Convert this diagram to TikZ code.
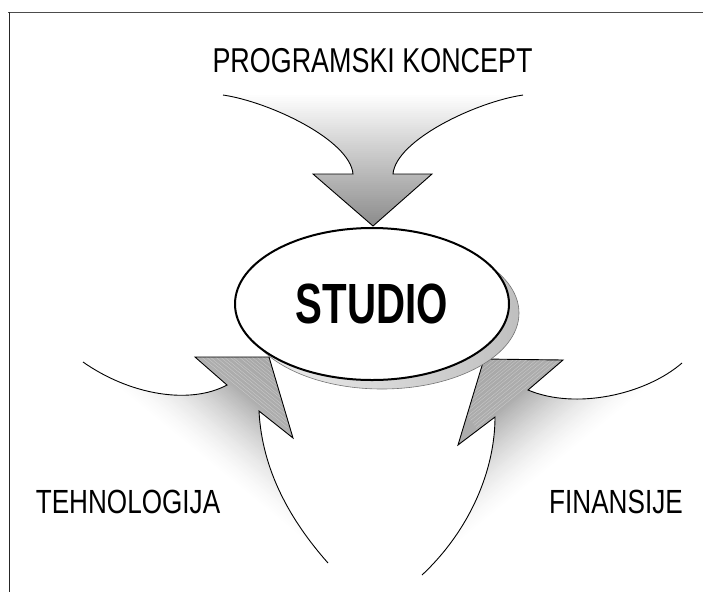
\documentclass[tikz,border=0pt]{standalone}
\usepackage{fontspec}
\setmainfont{Liberation Sans}
\newfontfamily\narrowfont{Liberation Sans}[FakeStretch=0.78]
\newfontfamily\studiofont{Liberation Sans}[FakeStretch=0.71]
\usetikzlibrary{calc,shapes.geometric}
\begin{document}
\begin{tikzpicture}[x=1pt,y=-1pt,
  outline/.style={draw=black, line width=0.9pt, line join=miter},
  lbl/.style={font=\narrowfont\fontsize{33.5}{40}\selectfont, anchor=base, inner sep=0pt},
  streak/.style={white, opacity=0.35, line width=0.4pt},
]
\useasboundingbox (0,0) rectangle (703,592);
% frame
\draw[black!70, line width=1.3pt] (8,12.5) -- (703,12.5);
\draw[black!85, line width=1.3pt] (9.5,12) -- (9.5,592);

% ---- top arrow (PROGRAMSKI KONCEPT)
\begin{scope}
\clip (223,95) .. controls (270,102) and (350,140) .. (353,174) -- (313,174) -- (373,226) -- (432,174) -- (393,174) .. controls (396,140) and (476,102) .. (523,95) -- cycle;
\foreach \yy in {95,97,...,229}{
  \pgfmathsetmacro\myk{45*(\yy-95)/131}
  \fill[black!\myk] (200,\yy-1.6) rectangle (560,\yy+1.6);
}
\end{scope}
\draw[outline] (223,95) .. controls (270,102) and (350,140) .. (353,174) -- (313,174) -- (373,226) -- (432,174) -- (393,174) .. controls (396,140) and (476,102) .. (523,95);

% ---- left arrow (TEHNOLOGIJA)
\begin{scope}
\clip (83,362) .. controls (130,395) and (190,405) .. (227,385) -- (195,357) -- (269,357) -- (293,438) -- (259,411) .. controls (262,470) and (290,520) .. (328,563) -- cycle;
\foreach \s in {0,2,...,132}{
  \pgfmathsetmacro\myt{min(\s,78)/78}
  \pgfmathsetmacro\myk{32*\myt*sqrt(\myt)+max(\s-78,0)*0.06}
  \pgfmathsetmacro\mya{\s}
  \pgfmathsetmacro\myb{\s+3.2}
  \fill[black!\myk] ($(83,362)+\mya*(0.634,-0.773)+400*(0.773,0.634)$) -- ($(83,362)+\myb*(0.634,-0.773)+400*(0.773,0.634)$) -- ($(83,362)+\myb*(0.634,-0.773)+400*(-0.773,-0.634)$) -- ($(83,362)+\mya*(0.634,-0.773)+400*(-0.773,-0.634)$) -- cycle;
}
\end{scope}
\begin{scope}
\clip (195,357) -- (269,357) -- (293,438) -- cycle;
\foreach \s in {79,82,84.5,88,91,93.5,97,99,103,105.5,108,111,114,117.5,119.5,122}{
  \draw[streak] ($(83,362)+\s*(0.634,-0.773)+200*(0.773,0.634)$) -- ($(83,362)+\s*(0.634,-0.773)+200*(-0.773,-0.634)$);
}
\end{scope}
\draw[outline] (83,362) .. controls (130,395) and (190,405) .. (227,385) -- (195,357) -- (269,357) -- (293,438) -- (259,411) .. controls (262,470) and (290,520) .. (328,563);

% ---- right arrow (FINANSIJE)
\begin{scope}
\clip (682,363) .. controls (645,395) and (575,410) .. (528,390) -- (563,360) -- (484,359) -- (458,445) -- (495,417) .. controls (495,470) and (470,530) .. (422,575) -- cycle;
\foreach \s in {0,2,...,136}{
  \pgfmathsetmacro\myt{min(\s,78)/78}
  \pgfmathsetmacro\myk{32*\myt*sqrt(\myt)+max(\s-78,0)*0.06}
  \pgfmathsetmacro\mya{\s}
  \pgfmathsetmacro\myb{\s+3.2}
  \fill[black!\myk] ($(682,363)+\mya*(-0.633,-0.776)+400*(0.776,-0.633)$) -- ($(682,363)+\myb*(-0.633,-0.776)+400*(0.776,-0.633)$) -- ($(682,363)+\myb*(-0.633,-0.776)+400*(-0.776,0.633)$) -- ($(682,363)+\mya*(-0.633,-0.776)+400*(-0.776,0.633)$) -- cycle;
}
\end{scope}
\begin{scope}
\clip (563,360) -- (484,359) -- (458,445) -- cycle;
\foreach \s in {80,83,85.5,89,92,94.5,98,100.5,104,106.5,109,112.5,115,118,121,124,126.5}{
  \draw[streak] ($(682,363)+\s*(-0.633,-0.776)+200*(0.776,-0.633)$) -- ($(682,363)+\s*(-0.633,-0.776)+200*(-0.776,0.633)$);
}
\end{scope}
\draw[outline] (682,363) .. controls (645,395) and (575,410) .. (528,390) -- (563,360) -- (484,359) -- (458,445) -- (495,417) .. controls (495,470) and (470,530) .. (422,575);

% ---- STUDIO ellipse with shadow
\shade[left color=black!6, right color=black!25, draw=black!55, line width=0.6pt] (382,313) ellipse [x radius=137, y radius=76];
\node[ellipse, draw=black, line width=2pt, fill=white, minimum width=274pt, minimum height=152pt, inner sep=0pt,
  font=\studiofont\bfseries\fontsize{56.7}{60}\selectfont] (studio) at (372,304) {STUDIO};

% ---- labels
\node[lbl, font=\narrowfont\fontsize{34.5}{40}\selectfont] (koncept) at (372.5,72) {PROGRAMSKI KONCEPT};
\node[lbl] (tehn) at (128,513) {TEHNOLOGIJA};
\node[lbl] (fin) at (616,513) {FINANSIJE};
\end{tikzpicture}
\end{document}
